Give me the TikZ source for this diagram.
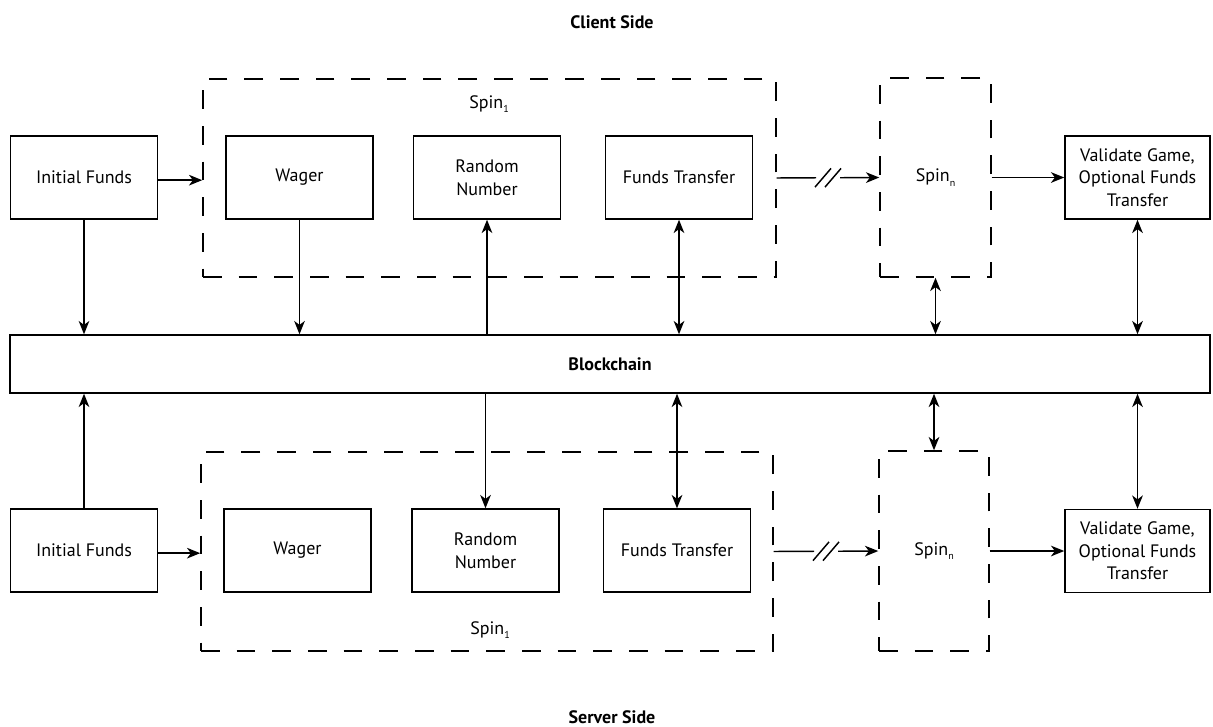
\documentclass[tikz,border=0pt]{standalone}
\usepackage{fontspec}
\setmainfont{PT Sans}
\usetikzlibrary{arrows.meta, positioning, calc}
\newcommand{\spinsub}[1]{\raisebox{-3.5pt}{\fontsize{7.5}{8}\selectfont #1}}

\begin{document}
\begin{tikzpicture}[
	  x=0.75pt, y=-0.75pt,
	  >={Stealth[length=10pt, width=8pt, inset=3pt]},
	  every node/.style={font=\fontsize{13.5}{17}\selectfont},
	  task/.style={
	  	rectangle,
	  	draw,
	  	line width=1.1pt,
	  	minimum width=110.25pt,
	  	minimum height=62.25pt,
	  	inner sep=1pt,
	  	align=center
	  },
	  spin/.style={
	  	rectangle,
	  	draw,
	  	line width=1.1pt,
	  	dash pattern=on 14pt off 12.75pt,
	  	align=center
	  },
	  side/.style={font=\fontsize{13.5}{17}\selectfont\bfseries},
	  link/.style={line width=1.1pt, ->},
	  twoway/.style={line width=1.1pt, <->},
	  slash/.style={line width=1.1pt}]
	\useasboundingbox (0,0) rectangle (1213,726);
	% Sides
	\node[side] (client) at (612,22) {Client Side};
	\node[side] (server) at (612,717) {Server Side};
	% Blockchain
	\node[task, minimum width=900pt, minimum height=43.5pt, side] (chain) at (610,364) {Blockchain};
	% Client row
	\node[spin, minimum width=429.75pt, minimum height=148.5pt] (s1T) at (489.5,178) {};
	\node (s1Tlbl) at (489,104) {Spin\spinsub{1}};
	\node[task] (ifT) at (84,177.5) {Initial Funds};
	\node[task] (wgT) at (299.5,177.5) {Wager};
	\node[task] (rnT) at (487,177.5) {Random\\Number};
	\node[task] (ftT) at (679,177.5) {Funds Transfer};
	\node[spin, minimum width=83.25pt, minimum height=149.25pt] (snT) at (935.5,177.5) {Spin\spinsub{n}};
	\node[task, minimum width=108.75pt] (valT) at (1137.5,177.5) {Validate Game,\\Optional Funds\\Transfer};
	% Server row
	\node[spin, minimum width=429pt, minimum height=149.25pt] (s1B) at (487,551.5) {};
	\node (s1Blbl) at (490,630) {Spin\spinsub{1}};
	\node[task] (ifB) at (84,550.5) {Initial Funds};
	\node[task] (wgB) at (297.5,550.5) {Wager};
	\node[task] (rnB) at (485.5,550.5) {Random\\Number};
	\node[task] (ftB) at (677,550.5) {Funds Transfer};
	\node[spin, minimum width=82.5pt, minimum height=150pt] (snB) at (934,551) {Spin\spinsub{n}};
	\node[task, minimum width=108.75pt] (valB) at (1137.5,551) {Validate Game,\\Optional Funds\\Transfer};
	% Client links
	\draw[link] ([yshift=-2pt]ifT.east) -- ([yshift=-2pt]ifT.east -| s1T.west);
	\draw[link] (ifT) -- (ifT |- chain.north);
	\draw[link] (wgT) -- (wgT |- chain.north);
	\draw[link] (chain.north -| rnT) -- (rnT);
	\draw[twoway] (ftT) -- (ftT |- chain.north);
	\draw[twoway] (snT) -- (snT |- chain.north);
	\draw[twoway] (valT) -- (valT |- chain.north);
	\draw[link] (snT.east) -- (valT.west);
	\path (s1T.east) -- coordinate[midway] (brkT) (snT.west);
	\draw[slash] (s1T.east) -- ([xshift=-9pt]brkT);
	\draw[link] ([xshift=9pt]brkT) -- (snT.west);
	\draw[slash] ([shift={(-9.75pt,-7pt)}]brkT) -- ([shift={(2.25pt,7pt)}]brkT);
	\draw[slash] ([shift={(-2.25pt,-7pt)}]brkT) -- ([shift={(9.75pt,7pt)}]brkT);
	% Server links
	\draw[link] ([yshift=-2pt]ifB.east) -- ([yshift=-2pt]ifB.east -| s1B.west);
	\draw[link] (ifB) -- (ifB |- chain.south);
	\draw[link] (chain.south -| rnB) -- (rnB);
	\draw[twoway] (ftB) -- (ftB |- chain.south);
	\draw[twoway] (snB) -- (snB |- chain.south);
	\draw[twoway] (valB) -- (valB |- chain.south);
	\draw[link] (snB.east) -- (valB.west);
	\path (s1B.east) -- coordinate[midway] (brkB) (snB.west);
	\draw[slash] (s1B.east) -- ([xshift=-9pt]brkB);
	\draw[link] ([xshift=9pt]brkB) -- (snB.west);
	\draw[slash] ([shift={(-9.75pt,-7pt)}]brkB) -- ([shift={(2.25pt,7pt)}]brkB);
	\draw[slash] ([shift={(-2.25pt,-7pt)}]brkB) -- ([shift={(9.75pt,7pt)}]brkB);
\end{tikzpicture}
\end{document}
